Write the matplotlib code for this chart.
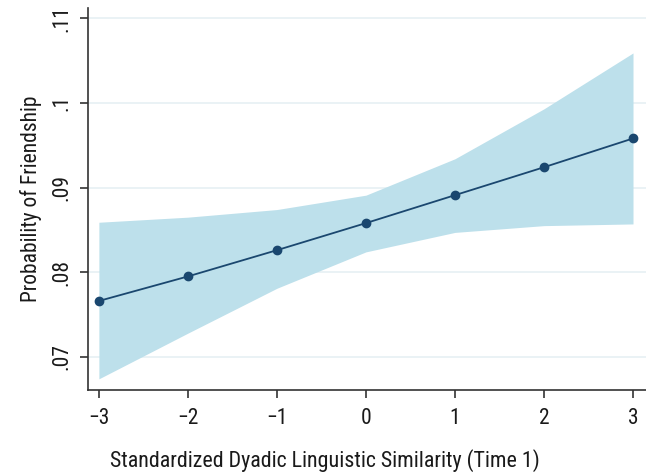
import numpy as np
import matplotlib.pyplot as plt

# predicted probabilities read from the marginsplot
similarity = [-3, -2, -1, 0, 1, 2, 3]
prob = [0.0766, 0.0795, 0.0826, 0.0858, 0.0891, 0.0924, 0.0958]
ci_low = [0.0674, 0.0728, 0.0781, 0.0824, 0.0847, 0.0855, 0.0857]
ci_high = [0.0859, 0.0865, 0.0874, 0.0891, 0.0934, 0.0993, 0.1059]
yticks = [0.07, 0.08, 0.09, 0.10, 0.11]
ytick_labels = ['.07', '.08', '.09', '.1', '.11']

plt.rcParams['font.family'] = ['Roboto Condensed', 'Liberation Sans', 'DejaVu Sans']
plt.rcParams['font.weight'] = 'normal'

fig = plt.figure(figsize=(6.46, 4.76), dpi=100)
ax = fig.add_axes([0.136, 0.181, 0.864, 0.802])

ax.fill_between(similarity, ci_low, ci_high, color='#bde0eb', linewidth=0, zorder=2)
ax.plot(similarity, prob, color='#1a476f', linewidth=1.3, marker='o',
        markersize=6, zorder=3)

ax.set_xlim(-3.124, 3.146)
ax.set_ylim(0.0661, 0.1112)
ax.set_xticks(similarity)
ax.set_xticklabels(['\u22123', '\u22122', '\u22121', '0', '1', '2', '3'])
ax.set_yticks(yticks)
ax.set_yticklabels(ytick_labels, rotation=90, va='center')

ax.grid(axis='y', color='#e6f0f3', linewidth=1.2, zorder=0)
ax.set_axisbelow(True)

for s in ['top', 'right']:
    ax.spines[s].set_visible(False)
for s in ['left', 'bottom']:
    ax.spines[s].set_color('#333333')
    ax.spines[s].set_linewidth(1.2)

ax.tick_params(axis='both', colors='#333333', length=6, width=1.2, labelsize=15.5,
               labelcolor='#1a1a1a')
ax.tick_params(axis='x', pad=7)
ax.tick_params(axis='y', pad=5)

ax.set_xlabel('Standardized Dyadic Linguistic Similarity (Time 1)', fontsize=15.8,
              color='#1a1a1a')
ax.xaxis.set_label_coords((325 - 88) / 558, -0.155)
ax.set_ylabel('Probability of Friendship', fontsize=15.5, color='#1a1a1a')
ax.yaxis.set_label_coords(-0.083, 0.5)

fig.savefig('out.png', dpi=100)
